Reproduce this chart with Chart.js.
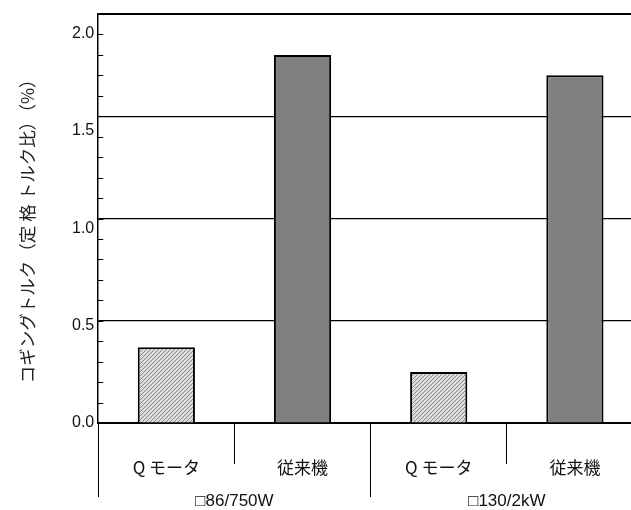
<!DOCTYPE html>
<html>
<head>
<meta charset="utf-8">
<script src="https://cdn.jsdelivr.net/npm/chart.js@4"></script>
<style>
  html, body { margin: 0; padding: 0; background: #fff; overflow: hidden; }
  /* the original figure is cut off on the right, so the canvas runs past the window */
  #wrap { width: 643px; height: 510px; }
</style>
</head>
<body>
<div id="wrap"><canvas id="cogChart"></canvas></div>
<script>
const categories = ["Q モータ", "従来機", "Q モータ", "従来機"];
const groups = ["□86/750W", "□130/2kW"];
const coggingRatio = [0.37, 1.80, 0.25, 1.70];
const axisTitle = "コギングトルク（定 格 トルク比）（%）　  ";

// light grey diagonal hatch for the Q motor bars
const makeHatch = () => {
  const c = document.createElement("canvas");
  c.width = 4;
  c.height = 4;
  const g = c.getContext("2d");
  g.fillStyle = "#dcdcdc";
  g.fillRect(0, 0, 4, 4);
  g.fillStyle = "#8a8a8a";
  for (let i = 0; i < 4; i++) g.fillRect(i, 3 - i, 1, 1);
  return g.createPattern(c, "repeat");
};
const hatch = makeHatch();

const isHalf = (v) => v > 0.001 && Math.abs(v * 2 - Math.round(v * 2)) < 0.001;

// short ticks pointing into the plot
const innerTicks = {
  id: "innerTicks",
  afterDraw(chart) {
    const { ctx, chartArea, scales } = chart;
    ctx.save();
    ctx.strokeStyle = "#000";
    ctx.lineWidth = 1;
    scales.y.ticks.forEach((t) => {
      const py = Math.round(scales.y.getPixelForValue(t.value)) + 0.5;
      ctx.beginPath();
      ctx.moveTo(chartArea.left, py);
      ctx.lineTo(chartArea.left + 5, py);
      ctx.stroke();
    });
    ctx.restore();
  },
};

new Chart(document.getElementById("cogChart"), {
  type: "bar",
  data: {
    labels: categories,
    datasets: [
      {
        data: coggingRatio,
        backgroundColor: [hatch, "#808080", hatch, "#808080"],
        borderColor: "#000",
        borderWidth: 2,
        categoryPercentage: 1,
        barPercentage: 0.42,
        xAxisID: "x",
        yAxisID: "y",
      },
    ],
  },
  options: {
    responsive: true,
    maintainAspectRatio: false,
    animation: false,
    layout: { padding: { top: 14, right: 0, bottom: 87, left: 17 } },
    plugins: {
      legend: { display: false },
      tooltip: { enabled: false },
    },
    scales: {
      x: {
        type: "category",
        position: { y: 0 },
        offset: true,
        grid: {
          offset: true,
          drawOnChartArea: false,
          tickLength: 40,
          color: "#000",
          lineWidth: 1,
        },
        border: { display: true, color: "#000", width: 2 },
        ticks: {
          color: "#111",
          padding: -6,
          font: { family: "'Noto Sans CJK JP'", size: 17 },
        },
      },
      x2: {
        type: "category",
        labels: groups,
        position: { y: 0 },
        offset: true,
        grid: {
          offset: true,
          drawOnChartArea: false,
          tickLength: 74,
          color: "#000",
          lineWidth: 1,
        },
        border: { display: false },
        ticks: {
          color: "#111",
          padding: -6,
          font: { family: "'Liberation Sans', 'Noto Sans CJK JP'", size: 17 },
        },
      },
      y: {
        type: "linear",
        position: "left",
        weight: 0,
        min: 0,
        max: 2.0,
        ticks: { display: false, stepSize: 0.1 },
        grid: {
          drawTicks: false,
          color: (ctx) => (isHalf(ctx.tick.value) ? "#000" : "rgba(0,0,0,0)"),
          lineWidth: (ctx) => (ctx.tick.value > 1.99 ? 2 : 1.2),
        },
        border: { display: true, color: "#000", width: 1.5 },
      },
      yt: {
        type: "linear",
        position: "left",
        weight: 1,
        min: 0,
        max: 2.1,
        grid: { display: false },
        border: { display: false },
        ticks: {
          stepSize: 0.5,
          includeBounds: false,
          padding: -4,
          color: "#111",
          font: { family: "'Liberation Sans'", size: 16 },
          callback: (v) => v.toFixed(1),
        },
        title: {
          display: true,
          text: axisTitle,
          color: "#222",
          padding: { top: 0, bottom: 38 },
          font: { family: "'Noto Sans CJK JP'", size: 17.5 },
        },
      },
    },
  },
  plugins: [innerTicks],
});
</script>
</body>
</html>
